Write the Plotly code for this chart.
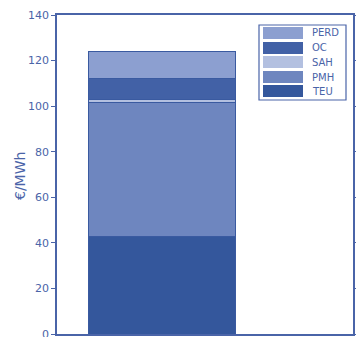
import plotly.graph_objects as go

categories = ["total"]
series_names = ["TEU", "PMH", "SAH", "OC", "PERD"]
series_values = [[43.0], [58.5], [1.5], [9.0], [12.0]]
y_ticks = [0, 20, 40, 60, 80, 100, 120, 140]

colors = {"TEU": "#34579c", "PMH": "#6e86bf", "SAH": "#b3c0e0", "OC": "#4261a6", "PERD": "#8c9fd0"}
axis_col = "#4a64a8"

fig = go.Figure()
for name, vals in zip(series_names, series_values):
    fig.add_trace(go.Bar(x=[0], y=vals, name=name, width=0.8,
                         marker=dict(color=colors[name], line=dict(color="#3a5aa0", width=1)),
                         showlegend=False))

# custom legend (paper coords)
W, H = 296.0, 319.0
def px(x): return (x - 57) / W
def py(y): return (334 - y) / H

shapes = [dict(type="rect", xref="paper", yref="paper", x0=px(259), x1=px(346), y0=py(100), y1=py(25),
               line=dict(color=axis_col, width=1.2), fillcolor="white")]
annotations = []
legend_order = ["PERD", "OC", "SAH", "PMH", "TEU"]
rows = [33, 48, 62, 77, 91]
for name, yc in zip(legend_order, rows):
    shapes.append(dict(type="rect", xref="paper", yref="paper", x0=px(263), x1=px(303),
                       y0=py(yc + 6), y1=py(yc - 6), line=dict(width=0), fillcolor=colors[name]))
    annotations.append(dict(text=name, xref="paper", yref="paper", x=px(310), y=py(yc),
                            xanchor="left", yanchor="middle", showarrow=False,
                            font=dict(family="DejaVu Sans", size=10, color=axis_col)))

# y-axis title as rotated annotation
annotations.append(dict(text="€/MWh", xref="paper", yref="paper", x=px(20), y=py(176),
                        xanchor="center", yanchor="middle", showarrow=False, textangle=-90,
                        font=dict(family="DejaVu Sans", size=14, color=axis_col)))

fig.update_layout(
    width=356, height=337,
    margin=dict(l=57, r=3, t=15, b=3, autoexpand=False),
    paper_bgcolor="white", plot_bgcolor="white",
    barmode="stack",
    shapes=shapes, annotations=annotations,
    xaxis=dict(range=[-0.573, 1.037], showticklabels=False, ticks="", showgrid=False, automargin=False,
               zeroline=False, showline=True, linecolor=axis_col, linewidth=1.5, mirror=True),
    yaxis=dict(range=[0, 140], tickvals=y_ticks, ticks="outside", ticklen=4, tickcolor=axis_col,
               showgrid=False, zeroline=False, showline=True, linecolor=axis_col, linewidth=1.5,
               mirror="ticks", automargin=False, ticklabeloverflow="allow",
               tickfont=dict(family="DejaVu Sans", size=11, color=axis_col)),
)

fig.write_html("out.html", post_script="document.body.style.margin='0';",
               config={"displayModeBar": False})
